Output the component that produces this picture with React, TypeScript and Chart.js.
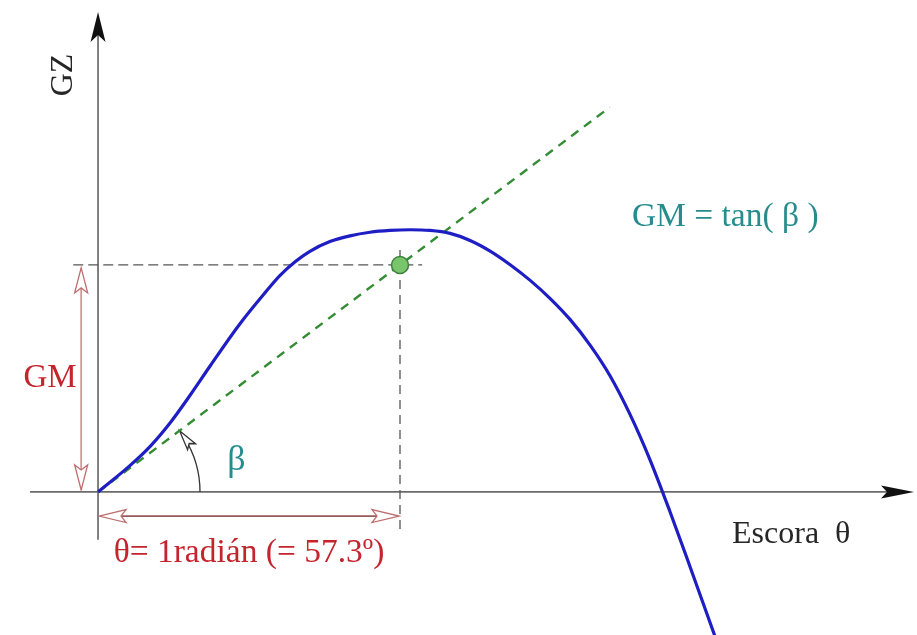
import { useEffect, useRef } from "react";
import { Chart, registerables } from "chart.js";

Chart.register(...registerables);

const W = 917;
const H = 635;

// Righting-arm curve: heel angle θ (degrees) against GZ (m)
const heelDeg = [0, 6.1, 9.9, 13.7, 17.5, 21.3, 26.9, 31.7, 34.5, 37.4, 40.2, 44.0, 47.8, 51.6, 55.4, 59.2, 63.0, 66.8, 70.6, 74.4, 78.2, 82.0, 85.8, 89.6, 93.4, 97.2, 100.9, 104.7, 108.5, 112.3, 117.1];
const gzValues = [0, 0.117, 0.201, 0.305, 0.427, 0.556, 0.74, 0.878, 0.953, 1.014, 1.06, 1.103, 1.128, 1.144, 1.152, 1.155, 1.152, 1.139, 1.108, 1.061, 1.001, 0.932, 0.852, 0.759, 0.646, 0.51, 0.344, 0.144, -0.085, -0.327, -0.638];

// Metacentric height and one radian in degrees
const GM = 1.0;
const RADIAN_DEG = 57.3;

// Tangent at the origin: GZ = GM·θ(rad)
const tangentDeg = [0, 97.1];
const tangentGz = tangentDeg.map((d) => (GM * d) / RADIAN_DEG);

// Reference guides at GZ = GM and θ = 1 rad
const gmGuideDeg = [-4.7, 61.5];
const radGuideGz = [1.066, -0.18];

// Axis window
const xMin = -18.6;
const xMax = 155.4;
const yMin = -0.63;
const yMax = 2.167;

const SERIF = "'Liberation Serif', 'Times New Roman', serif";
const RED = "rgb(196, 36, 44)";
const TEAL = "rgb(38, 140, 142)";

type Pt = { x: number; y: number };

function stealthHead(ctx: CanvasRenderingContext2D, tx: number, ty: number, dx: number, dy: number, len: number, hw: number, notch: number) {
  const bx = tx - dx * len;
  const by = ty - dy * len;
  const nx = -dy;
  const ny = dx;
  ctx.beginPath();
  ctx.moveTo(tx, ty);
  ctx.lineTo(bx + nx * hw, by + ny * hw);
  ctx.lineTo(tx - dx * (len - notch), ty - dy * (len - notch));
  ctx.lineTo(bx - nx * hw, by - ny * hw);
  ctx.closePath();
}

function openHead(ctx: CanvasRenderingContext2D, tx: number, ty: number, dx: number, dy: number, len: number, hw: number, notch: number, stroke: string) {
  stealthHead(ctx, tx, ty, dx, dy, len, hw, notch);
  ctx.fillStyle = "#ffffff";
  ctx.fill();
  ctx.strokeStyle = stroke;
  ctx.lineWidth = 1.3;
  ctx.stroke();
}

function doubleArrow(ctx: CanvasRenderingContext2D, ax: number, ay: number, bx: number, by: number, lineColor: string, headColor: string, len: number, hw: number) {
  const L = Math.hypot(bx - ax, by - ay);
  const dx = (bx - ax) / L;
  const dy = (by - ay) / L;
  ctx.strokeStyle = lineColor;
  ctx.lineWidth = 1.8;
  ctx.beginPath();
  ctx.moveTo(ax + dx * 6, ay + dy * 6);
  ctx.lineTo(bx - dx * 6, by - dy * 6);
  ctx.stroke();
  openHead(ctx, bx, by, dx, dy, len, hw, 5, headColor);
  openHead(ctx, ax, ay, -dx, -dy, len, hw, 5, headColor);
}

const stabilityDecor = {
  id: "stabilityDecor",
  beforeDatasetsDraw(chart: any) {
    const { ctx } = chart;
    const xs = chart.scales.x;
    const ys = chart.scales.y;
    const px = (v: number) => xs.getPixelForValue(v);
    const py = (v: number) => ys.getPixelForValue(v);
    const x0 = px(0);
    const y0 = py(0);
    ctx.save();

    // Axes
    ctx.strokeStyle = "#6b6b6b";
    ctx.lineWidth = 1.7;
    ctx.beginPath();
    ctx.moveTo(x0, py(-0.211));
    ctx.lineTo(x0, py(yMax) + 30);
    ctx.moveTo(px(-12.9), y0);
    ctx.lineTo(px(xMax) - 20, y0);
    ctx.stroke();
    ctx.fillStyle = "#111111";
    stealthHead(ctx, x0, py(yMax) + 12, 0, -1, 30, 7.5, 7);
    ctx.fill();
    stealthHead(ctx, px(xMax) - 3, y0, 1, 0, 33, 6.5, 6);
    ctx.fill();

    // GM arrow (vertical) and one-radian arrow (horizontal)
    doubleArrow(ctx, px(-3.2), py(GM) + 3, px(-3.2), y0 - 2, "rgb(214, 150, 150)", "rgb(190, 110, 110)", 25, 6.5);
    doubleArrow(ctx, x0 + 1, py(-0.106), px(RADIAN_DEG) - 1, py(-0.106), "rgb(150, 90, 90)", "rgb(190, 110, 110)", 27, 6.5);

    // Angle β arc
    const r = px(19.35) - x0;
    const phi = Math.atan2(y0 - py(GM), px(RADIAN_DEG) - x0);
    ctx.strokeStyle = "#333333";
    ctx.lineWidth = 1.3;
    ctx.beginPath();
    ctx.arc(x0, y0, r, 0, -(phi - 0.08), true);
    ctx.stroke();
    const tx = x0 + r * Math.cos(phi);
    const ty = y0 - r * Math.sin(phi);
    openHead(ctx, tx, ty, -Math.sin(phi), -Math.cos(phi), 20, 5, 4, "#333333");

    ctx.restore();
  },
  afterDatasetsDraw(chart: any) {
    const { ctx } = chart;
    const xs = chart.scales.x;
    const ys = chart.scales.y;
    const px = (v: number) => xs.getPixelForValue(v);
    const py = (v: number) => ys.getPixelForValue(v);
    ctx.save();

    // GZ axis title
    ctx.fillStyle = "#262626";
    ctx.font = `32px ${SERIF}`;
    ctx.textAlign = "center";
    ctx.textBaseline = "middle";
    ctx.save();
    ctx.translate(px(-6.6), py(1.837));
    ctx.rotate(-Math.PI / 2);
    ctx.fillText("GZ", 0, 0);
    ctx.restore();

    // Heel axis title
    ctx.textAlign = "left";
    ctx.textBaseline = "alphabetic";
    ctx.fillText("Escora  θ", px(120.3), py(-0.225));

    // GM label
    ctx.fillStyle = RED;
    ctx.font = `33px ${SERIF}`;
    ctx.textAlign = "center";
    ctx.textBaseline = "middle";
    ctx.fillText("GM", px(-9.1), py(GM / 2));

    // One radian label
    ctx.font = `33.5px ${SERIF}`;
    ctx.textBaseline = "alphabetic";
    ctx.fillText("θ= 1radián (= 57.3º)", px(RADIAN_DEG / 2), py(-0.308));

    // β and formula
    ctx.fillStyle = TEAL;
    ctx.textAlign = "left";
    ctx.font = `36px ${SERIF}`;
    ctx.fillText("β", px(24.5), py(0.097));
    ctx.font = `33.5px ${SERIF}`;
    ctx.fillText("GM = tan( β )", px(101.3), py(1.172));

    ctx.restore();
  },
};

export default function App() {
  const canvasRef = useRef<HTMLCanvasElement | null>(null);

  useEffect(() => {
    const canvas = canvasRef.current;
    if (!canvas) return;

    const curve: Pt[] = heelDeg.map((d, i) => ({ x: d, y: gzValues[i] }));
    const tangent: Pt[] = tangentDeg.map((d, i) => ({ x: d, y: tangentGz[i] }));
    const gmGuide: Pt[] = gmGuideDeg.map((d) => ({ x: d, y: GM }));
    const radGuide: Pt[] = radGuideGz.map((g) => ({ x: RADIAN_DEG, y: g }));

    const chart = new Chart(canvas, {
      type: "scatter",
      data: {
        datasets: [
          {
            label: "GM",
            data: [{ x: RADIAN_DEG, y: GM }],
            pointRadius: 8.5,
            pointBackgroundColor: "rgb(122, 196, 108)",
            pointBorderColor: "rgb(62, 130, 60)",
            pointBorderWidth: 1.5,
            showLine: false,
            order: 0,
          },
          {
            label: "GZ",
            data: curve,
            showLine: true,
            borderColor: "rgb(30, 30, 196)",
            borderWidth: 3.2,
            pointRadius: 0,
            cubicInterpolationMode: "monotone",
            order: 1,
          },
          {
            label: "tangente",
            data: tangent,
            showLine: true,
            borderColor: "rgb(52, 140, 52)",
            borderWidth: 2.4,
            borderDash: [9, 7],
            pointRadius: 0,
            order: 2,
          },
          {
            label: "GM guía",
            data: gmGuide,
            showLine: true,
            borderColor: "#555555",
            borderWidth: 1.3,
            borderDash: [10, 5],
            pointRadius: 0,
            order: 3,
          },
          {
            label: "radián guía",
            data: radGuide,
            showLine: true,
            borderColor: "#555555",
            borderWidth: 1.3,
            borderDash: [9, 6],
            pointRadius: 0,
            order: 3,
          },
        ],
      },
      options: {
        responsive: false,
        devicePixelRatio: 1,
        animation: false,
        events: [],
        layout: { padding: 0, autoPadding: false },
        plugins: {
          legend: { display: false },
          tooltip: { enabled: false },
        },
        scales: {
          x: { type: "linear", min: xMin, max: xMax, display: false },
          y: { type: "linear", min: yMin, max: yMax, display: false },
        },
      },
      plugins: [stabilityDecor],
    });

    return () => chart.destroy();
  }, []);

  return (
    <div style={{ position: "absolute", left: 0, top: 0, width: W, height: H, background: "#ffffff" }}>
      <canvas ref={canvasRef} width={W} height={H} style={{ display: "block", width: W, height: H }} />
    </div>
  );
}
